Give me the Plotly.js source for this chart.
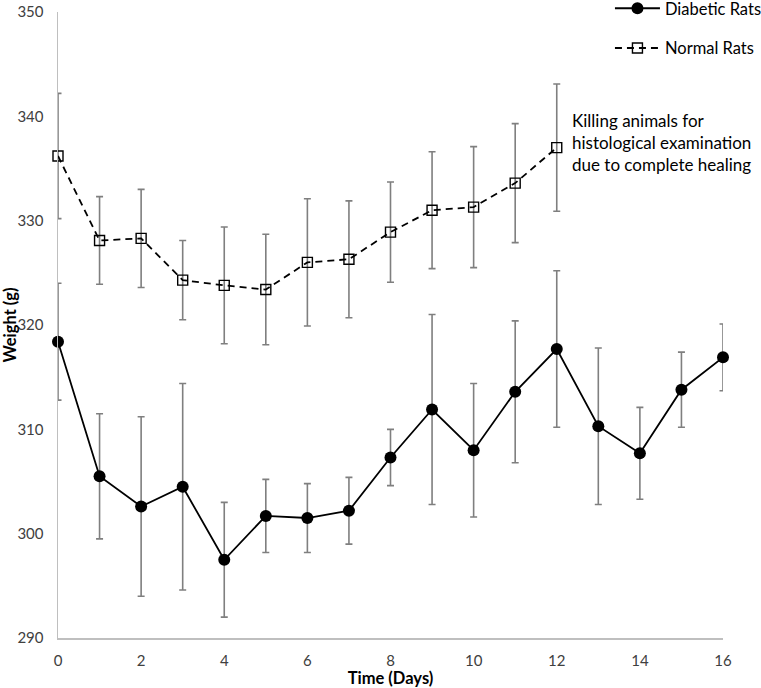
<!DOCTYPE html>
<html>
<head>
<meta charset="utf-8">
<script src="https://cdn.plot.ly/plotly-3.0.1.min.js"></script>
<style>html,body{margin:0;padding:0;background:#fff;}#chart{width:761px;height:688px;}</style>
</head>
<body>
<div id="chart"></div>
<script>
const days = [0,1,2,3,4,5,6,7,8,9,10,11,12,13,14,15,16];
const diabeticWeight = [318.4,305.5,302.6,304.5,297.5,301.7,301.5,302.2,307.3,311.9,308.0,313.6,317.7,310.3,307.7,313.8,316.9];
const diabeticErr = [5.6,6.0,8.6,9.9,5.5,3.5,3.3,3.2,2.7,9.1,6.4,6.8,7.5,7.5,4.4,3.6,3.2];
const normalDays = [0,1,2,3,4,5,6,7,8,9,10,11,12];
const normalWeight = [336.2,328.1,328.3,324.3,323.8,323.4,326.0,326.3,328.9,331.0,331.3,333.6,337.0];
const normalErr = [6.0,4.2,4.7,3.8,5.6,5.3,6.1,5.6,4.8,5.6,5.8,5.7,6.1];
const seriesNames = ["Diabetic Rats","Normal Rats"];
const noteText = "Killing animals for<br>histological examination<br>due to complete healing";
const xTitle = "Time (Days)";
const yTitle = "Weight (g)";

const FONT = "Lato, 'Open Sans', sans-serif";

const traces = [
  {
    x: days, y: diabeticWeight, name: seriesNames[0], type: 'scatter', mode: 'lines+markers',
    line: {color: '#000', width: 1.8}, cliponaxis: false,
    marker: {symbol: 'circle', size: 12, color: '#000'},
    error_y: {type: 'data', array: diabeticErr, visible: true, color: '#7f7f7f', thickness: 1.6, width: 3.5},
    legend: 'legend'
  },
  {
    x: normalDays, y: normalWeight, name: seriesNames[1], type: 'scatter', mode: 'lines+markers',
    line: {color: '#000', width: 1.8, dash: '7px,5px'}, cliponaxis: false,
    marker: {symbol: 'square-open', size: 10, color: '#000', line: {width: 1.4}},
    error_y: {type: 'data', array: normalErr, visible: true, color: '#7f7f7f', thickness: 1.6, width: 3.5},
    legend: 'legend2'
  }
];

const layout = {
  width: 761, height: 688,
  margin: {l: 58, r: 38, t: 12, b: 50, autoexpand: false},
  paper_bgcolor: '#fff', plot_bgcolor: '#fff',
  font: {family: FONT, size: 15, color: '#404040'},
  showlegend: true,
  xaxis: {
    range: [0, 16], tick0: 0, dtick: 2, showgrid: false, zeroline: false,
    showline: true, linecolor: '#bfbfbf', linewidth: 1.5, ticks: '', ticklabelstandoff: 8,
    tickfont: {family: FONT, size: 15, color: '#404040'},
    title: {text: '<b>' + xTitle + '</b>', font: {family: FONT, size: 16.5, color: '#000'}, standoff: 0}
  },
  yaxis: {
    range: [290, 350], tick0: 290, dtick: 10, showgrid: false, zeroline: false,
    showline: true, linecolor: '#bfbfbf', linewidth: 1.5, ticks: '', ticklabelstandoff: 10,
    tickfont: {family: FONT, size: 15, color: '#404040'},
    title: {text: '<b>' + yTitle + '</b>', font: {family: FONT, size: 16.5, color: '#000'}, standoff: 4}
  },
  legend: {
    x: 0.83, xanchor: 'left', y: 1.0335, yanchor: 'top', bgcolor: 'rgba(0,0,0,0)',
    font: {family: FONT, size: 16.5, color: '#000'}, itemwidth: 45
  },
  legend2: {
    x: 0.83, xanchor: 'left', y: 0.970, yanchor: 'top', bgcolor: 'rgba(0,0,0,0)',
    font: {family: FONT, size: 16.5, color: '#000'}, itemwidth: 45
  },
  annotations: [{
    x: 12.32, y: 337.5, xref: 'x', yref: 'y', xanchor: 'left', yanchor: 'middle', align: 'left',
    text: noteText, showarrow: false, font: {family: FONT, size: 17, color: '#000'}
  }]
};

Plotly.newPlot('chart', traces, layout, {displayModeBar: false, staticPlot: true});
</script>
</body>
</html>
